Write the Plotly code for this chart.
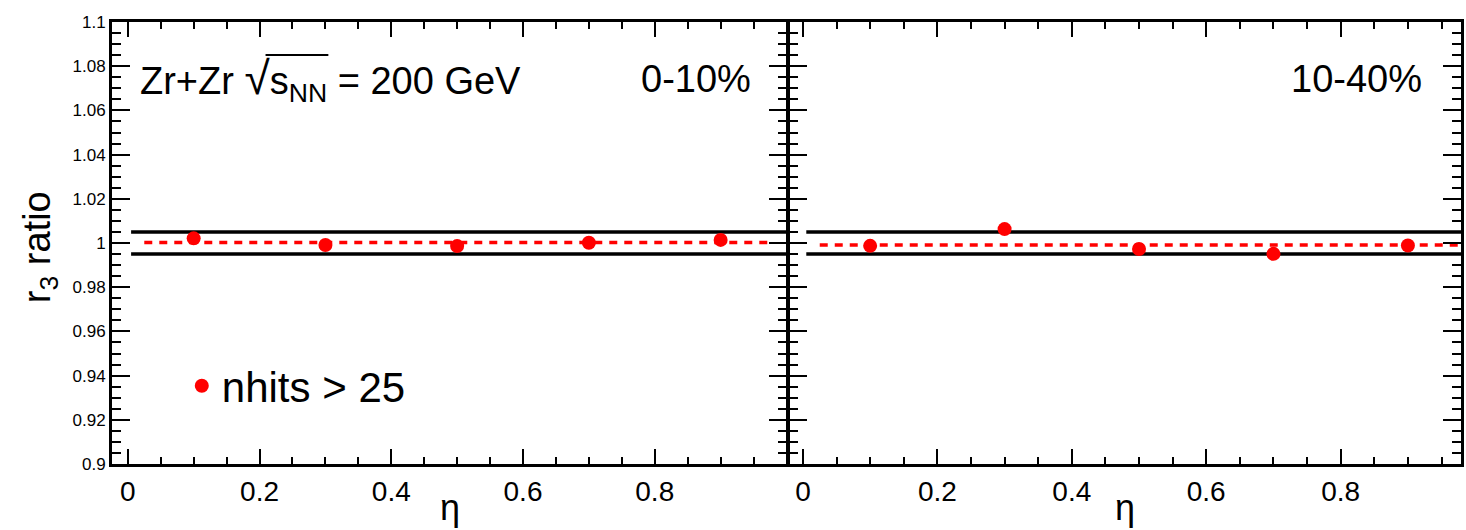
import plotly.graph_objects as go

# ---- data ----
eta = [0.1, 0.3, 0.5, 0.7, 0.9]
ratio_0_10 = [1.0021, 0.9991, 0.9986, 1.0001, 1.0014]
ratio_10_40 = [0.9987, 1.0063, 0.9973, 0.9951, 0.9989]
fit_0_10 = 1.0002
fit_10_40 = 0.9991
fit_range = [0.025, 0.975]
band_hi = 1.005
band_lo = 0.995
band_range = [0.005, 1.0]

W, H = 1466, 530
ML, MR, MT, MB = 112, 1, 22, 66
PW = W - ML - MR
PH = H - MT - MB
LW = 3
split = (790 - LW / 2 - ML) / PW
split2 = (790 + LW / 2 - ML) / PW

FONT = "Liberation Sans, Arial, Helvetica, sans-serif"

def px(x):
    return (x - ML) / PW

def py(y):
    return (H - MB - y) / PH

fig = go.Figure()

panels = [("x", "y", ratio_0_10, fit_0_10, True), ("x2", "y2", ratio_10_40, fit_10_40, False)]
for xa, ya, vals, fitv, leg in panels:
    for lvl in (band_hi, band_lo):
        fig.add_trace(go.Scatter(x=band_range, y=[lvl, lvl], mode="lines",
                                 line=dict(color="black", width=3.5),
                                 xaxis=xa, yaxis=ya, showlegend=False, hoverinfo="skip"))
    fig.add_trace(go.Scatter(x=fit_range, y=[fitv, fitv], mode="lines",
                             line=dict(color="#ff0000", width=3.5, dash="8px,7px"),
                             xaxis=xa, yaxis=ya, showlegend=False, hoverinfo="skip"))
    fig.add_trace(go.Scatter(x=eta, y=vals, mode="markers",
                             marker=dict(color="#ff0000", size=14),
                             name="nhits > 25", showlegend=leg,
                             xaxis=xa, yaxis=ya))

common_x = dict(showline=True, linewidth=LW, linecolor="black", mirror="ticks",
                ticks="inside", ticklen=15, tickwidth=2, tickcolor="black",
                tick0=0, dtick=0.2, showgrid=False, zeroline=False,
                tickfont=dict(family=FONT, size=28, color="black"),
                minor=dict(ticks="inside", ticklen=7, tickwidth=2, tickcolor="black", dtick=0.05, showgrid=False),
                labelalias={"1": " "})
common_y = dict(showline=True, linewidth=LW, linecolor="black", mirror="ticks",
                ticks="inside", ticklen=18, tickwidth=2, tickcolor="black",
                range=[0.9, 1.1], tick0=0.9, dtick=0.02, showgrid=False, zeroline=False,
                tickfont=dict(family=FONT, size=17, color="black"),
                minor=dict(ticks="inside", ticklen=9, tickwidth=2, tickcolor="black", dtick=0.005, showgrid=False))

fig.update_layout(
    width=W, height=H,
    margin=dict(l=ML, r=MR, t=MT, b=MB),
    paper_bgcolor="white", plot_bgcolor="white",
    font=dict(family=FONT, color="black"),
    xaxis=dict(domain=[0, split], range=[-0.024, 1.0], anchor="y", **common_x),
    xaxis2=dict(domain=[split2, 1], range=[-0.02, 0.979], anchor="y2", **common_x),
    yaxis=dict(domain=[0, 1], anchor="x", tickformat="~g", **common_y),
    yaxis2=dict(domain=[0, 1], anchor="x2", showticklabels=False, **common_y),
    legend=dict(x=px(182), y=py(386), xanchor="left", yanchor="middle",
                font=dict(family=FONT, size=42, color="black"),
                bgcolor="rgba(0,0,0,0)", itemsizing="trace"),
    showlegend=True,
)

fig.add_annotation(text="Zr+Zr <span style='font-size:46px'>√</span>s<sub>NN</sub> = 200 GeV",
                   xref="paper", yref="paper",
                   x=px(138), y=py(80), xanchor="left", yanchor="middle", showarrow=False,
                   font=dict(family=FONT, size=38, color="black"))
# overline of the square root
fig.add_shape(type="line", xref="paper", yref="paper",
              x0=px(266), x1=px(329), y0=py(55), y1=py(55),
              line=dict(color="black", width=2))
fig.add_annotation(text="0-10%", xref="paper", yref="paper",
                   x=px(755), y=py(79), xanchor="right", yanchor="middle", showarrow=False,
                   font=dict(family=FONT, size=38, color="black"))
fig.add_annotation(text="10-40%", xref="paper", yref="paper",
                   x=px(1428), y=py(79), xanchor="right", yanchor="middle", showarrow=False,
                   font=dict(family=FONT, size=38, color="black"))
fig.add_annotation(text="r<sub>3</sub> ratio", xref="paper", yref="paper",
                   x=px(40), y=py(247), xanchor="center", yanchor="middle", textangle=-90,
                   showarrow=False, font=dict(family=FONT, size=38, color="black"))
for cx in (451, 1128):
    fig.add_annotation(text="η", xref="paper", yref="paper",
                       x=px(cx), y=py(530), xanchor="center", yanchor="bottom",
                       showarrow=False, font=dict(family=FONT, size=36, color="black"))

fig.write_html("out.html")
